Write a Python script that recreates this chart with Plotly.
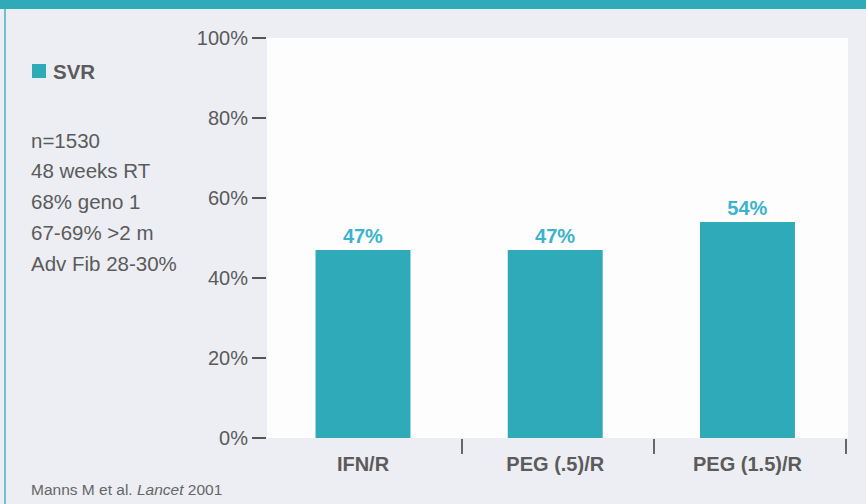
import plotly.graph_objects as go

# ---- data ----
categories = ["IFN/R", "PEG (.5)/R", "PEG (1.5)/R"]
svr_values = [47, 47, 54]
y_tick_values = [0, 20, 40, 60, 80, 100]
y_tick_labels = ["0%", "20%", "40%", "60%", "80%", "100%"]
series_name = "SVR"
notes = ["n=1530", "48 weeks RT", "68% geno 1", "67-69% >2 m", "Adv Fib 28-30%"]
source = "Manns M et al. <i>Lancet</i> 2001"

# ---- layout constants (pixels) ----
W, H = 866, 504
L, R, T, B = 267, 18, 38, 66
PW, PH = W - L - R, H - T - B
TEAL = "#2eaab8"
TEAL_TXT = "#3bb3cc"
BG = "#eceef3"
GREY = "#5b5b5b"
FONT = "Liberation Sans, Arial, Helvetica, sans-serif"


def px_x(px):
    return (px - L) / PW


def px_y(py):
    return (H - B - py) / PH


fig = go.Figure()
fig.add_trace(go.Bar(
    x=list(range(len(categories))), y=svr_values, name=series_name,
    marker=dict(color=TEAL, line=dict(width=0)),
    width=0.494,
    texttemplate="%{y}%", textposition="outside",
    textfont=dict(family=FONT, size=20, color=TEAL_TXT, weight="bold"),
    cliponaxis=False, showlegend=False, hoverinfo="skip",
))
# invisible trace on second x axis carrying the separator ticks
fig.add_trace(go.Scatter(x=[0], y=[0], xaxis="x2", mode="markers",
                         marker=dict(opacity=0), showlegend=False, hoverinfo="skip"))

xr = [-0.4994, 2.523]
fig.update_layout(
    width=W, height=H,
    margin=dict(l=L, r=R, t=T, b=B),
    paper_bgcolor=BG, plot_bgcolor="#fdfdfe",
    font=dict(family=FONT, color=GREY, size=20),
    xaxis=dict(
        range=xr, tickmode="array",
        tickvals=list(range(len(categories))), ticktext=categories,
        tickfont=dict(family=FONT, size=20, color=GREY, weight="bold"),
        ticks="", showline=False, showgrid=False, zeroline=False,
        ticklabelstandoff=12, fixedrange=True,
    ),
    xaxis2=dict(
        range=xr, overlaying="x", anchor="y", side="bottom",
        tickmode="array", tickvals=[i + 0.515 for i in range(len(categories))],
        ticks="outside", ticklen=15, tickwidth=2, tickcolor="#666",
        showticklabels=False, showline=False, showgrid=False, zeroline=False,
    ),
    yaxis=dict(
        range=[0, 100], tickmode="array",
        tickvals=y_tick_values, ticktext=y_tick_labels,
        ticks="outside", ticklen=14, tickwidth=2, tickcolor="#555",
        tickfont=dict(family=FONT, size=20, color=GREY),
        showline=False, showgrid=False, zeroline=False, fixedrange=True,
    ),
    bargap=0.5,
)

shapes = [
    # top teal band
    dict(type="rect", xref="paper", yref="paper",
         x0=px_x(0), x1=px_x(W), y0=px_y(9), y1=px_y(0),
         fillcolor=TEAL, line=dict(width=0), layer="above"),
    # left teal rule
    dict(type="rect", xref="paper", yref="paper",
         x0=px_x(4), x1=px_x(6), y0=px_y(H), y1=px_y(9),
         fillcolor="#6cc3cf", line=dict(width=0), layer="above"),
    # legend swatch
    dict(type="rect", xref="paper", yref="paper",
         x0=px_x(32), x1=px_x(46), y0=px_y(78), y1=px_y(64),
         fillcolor=TEAL, line=dict(width=0)),
]
fig.update_layout(shapes=shapes)

annotations = [
    dict(text="<b>%s</b>" % series_name, xref="paper", yref="paper",
         x=px_x(51), y=px_y(71), xanchor="left", yanchor="middle",
         showarrow=False, font=dict(family=FONT, size=20.5, color=GREY)),
]
for i, line in enumerate(notes):
    annotations.append(dict(
        text=line, xref="paper", yref="paper",
        x=px_x(29), y=px_y(140 + i * 30.8), xanchor="left", yanchor="middle",
        showarrow=False, font=dict(family=FONT, size=20.5, color=GREY)))
annotations.append(dict(
    text=source, xref="paper", yref="paper",
    x=px_x(29), y=px_y(490), xanchor="left", yanchor="middle",
    showarrow=False, font=dict(family=FONT, size=15.5, color="#666")))
fig.update_layout(annotations=annotations)

fig.write_html(
    "out.html",
    config={"displayModeBar": False, "staticPlot": True},
    post_script="document.body.style.margin='0';document.body.style.overflow='hidden';",
)
